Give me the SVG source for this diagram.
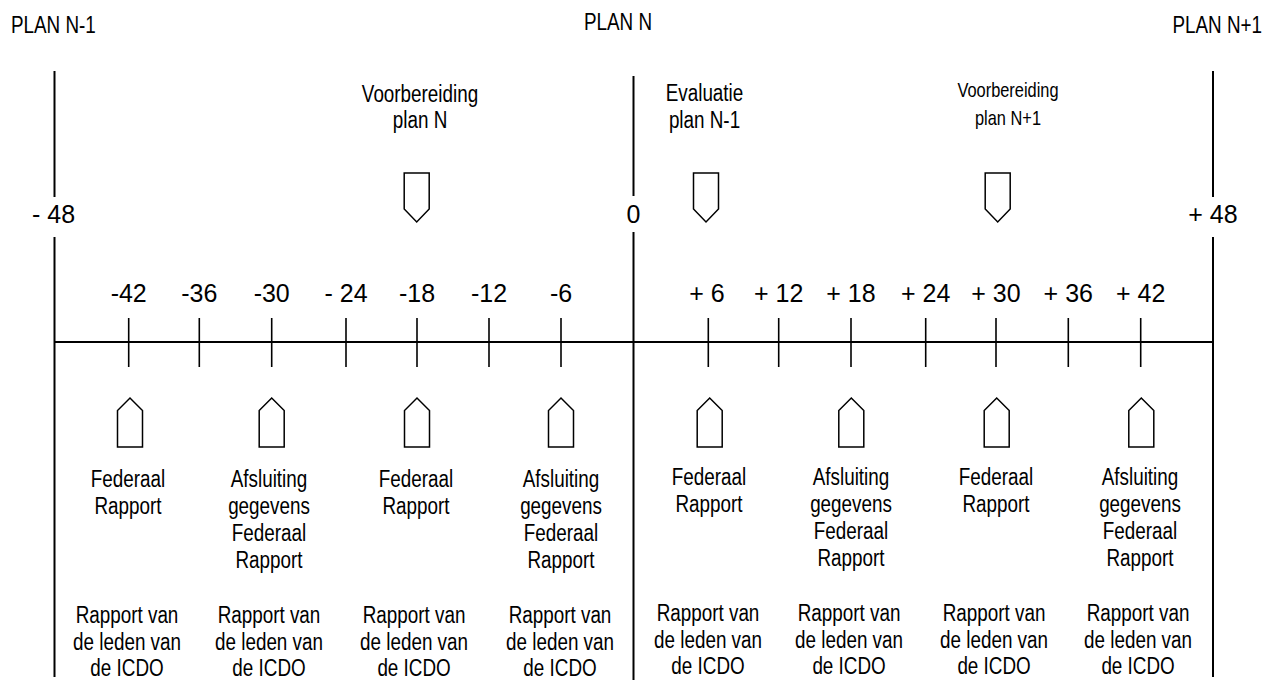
<svg xmlns="http://www.w3.org/2000/svg" width="1272" height="680" viewBox="0 0 1272 680">
<defs>
<style>
.ln{stroke:#000;stroke-width:2;fill:none}
.tk{stroke:#000;stroke-width:1.6;fill:none}
.pg{stroke:#000;stroke-width:1.5;fill:#fff}
.nr{font-family:"Liberation Sans",Arial,sans-serif;font-size:23px;fill:#000;text-anchor:middle}
.sm{font-size:20px}
.num{font-family:"Liberation Sans",Arial,sans-serif;font-size:25px;fill:#000;text-anchor:middle}
</style>
<path id="down" d="M-12.5,0 H12.5 V36 L0,49 L-12.5,36 Z"/>
<path id="up" d="M-12.5,49 H12.5 V12.5 L0,0 L-12.5,12.5 Z"/>
</defs>
<rect width="1272" height="680" fill="#fff"/>
<g id="connectors">
<line class="ln" x1="54.5" y1="71" x2="54.5" y2="197"/>
<line class="ln" x1="54.5" y1="237" x2="54.5" y2="677"/>
<line class="ln" x1="633.5" y1="76" x2="633.5" y2="196"/>
<line class="ln" x1="633.5" y1="232" x2="633.5" y2="680"/>
<line class="ln" x1="1213" y1="71" x2="1213" y2="197"/>
<line class="ln" x1="1213" y1="237" x2="1213" y2="677"/>
<line class="ln" x1="54" y1="342" x2="1213" y2="342"/>
<g class="tk">
<line x1="128.7" y1="318" x2="128.7" y2="367"/>
<line x1="199.3" y1="318" x2="199.3" y2="367"/>
<line x1="271.7" y1="318" x2="271.7" y2="367"/>
<line x1="346" y1="318" x2="346" y2="367"/>
<line x1="417" y1="318" x2="417" y2="367"/>
<line x1="489" y1="318" x2="489" y2="367"/>
<line x1="561" y1="318" x2="561" y2="367"/>
<line x1="708.3" y1="318" x2="708.3" y2="367"/>
<line x1="778.7" y1="318" x2="778.7" y2="367"/>
<line x1="851" y1="318" x2="851" y2="367"/>
<line x1="925.7" y1="318" x2="925.7" y2="367"/>
<line x1="996" y1="318" x2="996" y2="367"/>
<line x1="1068.3" y1="318" x2="1068.3" y2="367"/>
<line x1="1140.7" y1="318" x2="1140.7" y2="367"/>
</g>
</g>
<g id="plan-labels">
<text class="nr" transform="translate(11,0) scale(.82,1)" y="33" style="text-anchor:start">PLAN N-1</text>
<text class="nr" transform="translate(584,0) scale(.82,1)" y="30" style="text-anchor:start">PLAN N</text>
<text class="nr" transform="translate(1262,0) scale(.82,1)" y="33" style="text-anchor:end">PLAN N+1</text>
</g>
<g id="scale-labels">
<text class="num" x="53.5" y="223">- 48</text>
<text class="num" x="633.5" y="223">0</text>
<text class="num" x="1213" y="223">+ 48</text>
<text class="num" x="128.7" y="302">-42</text>
<text class="num" x="199.3" y="302">-36</text>
<text class="num" x="271.7" y="302">-30</text>
<text class="num" x="346" y="302">- 24</text>
<text class="num" x="417" y="302">-18</text>
<text class="num" x="489" y="302">-12</text>
<text class="num" x="561" y="302">-6</text>
<text class="num" x="707" y="302">+ 6</text>
<text class="num" x="778.7" y="302">+ 12</text>
<text class="num" x="851" y="302">+ 18</text>
<text class="num" x="925.7" y="302">+ 24</text>
<text class="num" x="996" y="302">+ 30</text>
<text class="num" x="1068.3" y="302">+ 36</text>
<text class="num" x="1140.7" y="302">+ 42</text>
</g>
<g id="voorbereiding-n">
<use href="#down" class="pg" x="416.7" y="173"/>
<text class="nr" transform="translate(420,0) scale(.82,1)" y="102">Voorbereiding</text>
<text class="nr" transform="translate(420,0) scale(.82,1)" y="128">plan N</text>
</g>
<g id="evaluatie">
<use href="#down" class="pg" x="706" y="173"/>
<text class="nr" transform="translate(704.5,0) scale(.82,1)" y="101">Evaluatie</text>
<text class="nr" transform="translate(704.5,0) scale(.82,1)" y="128">plan N-1</text>
</g>
<g id="voorbereiding-n1">
<use href="#down" class="pg" x="997.7" y="173"/>
<text class="nr sm" transform="translate(1008,0) scale(.82,1)" y="97">Voorbereiding</text>
<text class="nr sm" transform="translate(1008,0) scale(.82,1)" y="125">plan N+1</text>
</g>
<g id="m-42" transform="translate(128,0)">
<use href="#up" class="pg" x="2" y="398"/>
<g transform="scale(.82,1)">
<text class="nr" x="0" y="487">Federaal</text>
<text class="nr" x="0" y="514">Rapport</text>
<text class="nr" x="-1.2" y="623">Rapport van</text>
<text class="nr" x="-1.2" y="650">de leden van</text>
<text class="nr" x="-1.2" y="676">de ICDO</text>
</g>
</g>
<g id="m-30" transform="translate(269,0)">
<use href="#up" class="pg" x="2.7" y="398"/>
<g transform="scale(.82,1)">
<text class="nr" x="0" y="487">Afsluiting</text>
<text class="nr" x="0" y="514">gegevens</text>
<text class="nr" x="0" y="541">Federaal</text>
<text class="nr" x="0" y="568">Rapport</text>
<text class="nr" x="0" y="623">Rapport van</text>
<text class="nr" x="0" y="650">de leden van</text>
<text class="nr" x="0" y="676">de ICDO</text>
</g>
</g>
<g id="m-18" transform="translate(416,0)">
<use href="#up" class="pg" x="1" y="398"/>
<g transform="scale(.82,1)">
<text class="nr" x="0" y="487">Federaal</text>
<text class="nr" x="0" y="514">Rapport</text>
<text class="nr" x="-2.4" y="623">Rapport van</text>
<text class="nr" x="-2.4" y="650">de leden van</text>
<text class="nr" x="-2.4" y="676">de ICDO</text>
</g>
</g>
<g id="m-6" transform="translate(561,0)">
<use href="#up" class="pg" x="0" y="398"/>
<g transform="scale(.82,1)">
<text class="nr" x="0" y="487">Afsluiting</text>
<text class="nr" x="0" y="514">gegevens</text>
<text class="nr" x="0" y="541">Federaal</text>
<text class="nr" x="0" y="568">Rapport</text>
<text class="nr" x="-1.2" y="623">Rapport van</text>
<text class="nr" x="-1.2" y="650">de leden van</text>
<text class="nr" x="-1.2" y="676">de ICDO</text>
</g>
</g>
<g id="m+6" transform="translate(709,0)">
<use href="#up" class="pg" x="0.7" y="398"/>
<g transform="scale(.82,1)">
<text class="nr" x="0" y="485">Federaal</text>
<text class="nr" x="0" y="512">Rapport</text>
<text class="nr" x="-1.2" y="621">Rapport van</text>
<text class="nr" x="-1.2" y="648">de leden van</text>
<text class="nr" x="-1.2" y="674">de ICDO</text>
</g>
</g>
<g id="m+18" transform="translate(851,0)">
<use href="#up" class="pg" x="0.3" y="398"/>
<g transform="scale(.82,1)">
<text class="nr" x="0" y="485">Afsluiting</text>
<text class="nr" x="0" y="512">gegevens</text>
<text class="nr" x="0" y="539">Federaal</text>
<text class="nr" x="0" y="566">Rapport</text>
<text class="nr" x="-2.4" y="621">Rapport van</text>
<text class="nr" x="-2.4" y="648">de leden van</text>
<text class="nr" x="-2.4" y="674">de ICDO</text>
</g>
</g>
<g id="m+30" transform="translate(996,0)">
<use href="#up" class="pg" x="0.7" y="398"/>
<g transform="scale(.82,1)">
<text class="nr" x="0" y="485">Federaal</text>
<text class="nr" x="0" y="512">Rapport</text>
<text class="nr" x="-2.4" y="621">Rapport van</text>
<text class="nr" x="-2.4" y="648">de leden van</text>
<text class="nr" x="-2.4" y="674">de ICDO</text>
</g>
</g>
<g id="m+42" transform="translate(1140,0)">
<use href="#up" class="pg" x="1.3" y="398"/>
<g transform="scale(.82,1)">
<text class="nr" x="0" y="485">Afsluiting</text>
<text class="nr" x="0" y="512">gegevens</text>
<text class="nr" x="0" y="539">Federaal</text>
<text class="nr" x="0" y="566">Rapport</text>
<text class="nr" x="-2.4" y="621">Rapport van</text>
<text class="nr" x="-2.4" y="648">de leden van</text>
<text class="nr" x="-2.4" y="674">de ICDO</text>
</g>
</g>
</svg>
